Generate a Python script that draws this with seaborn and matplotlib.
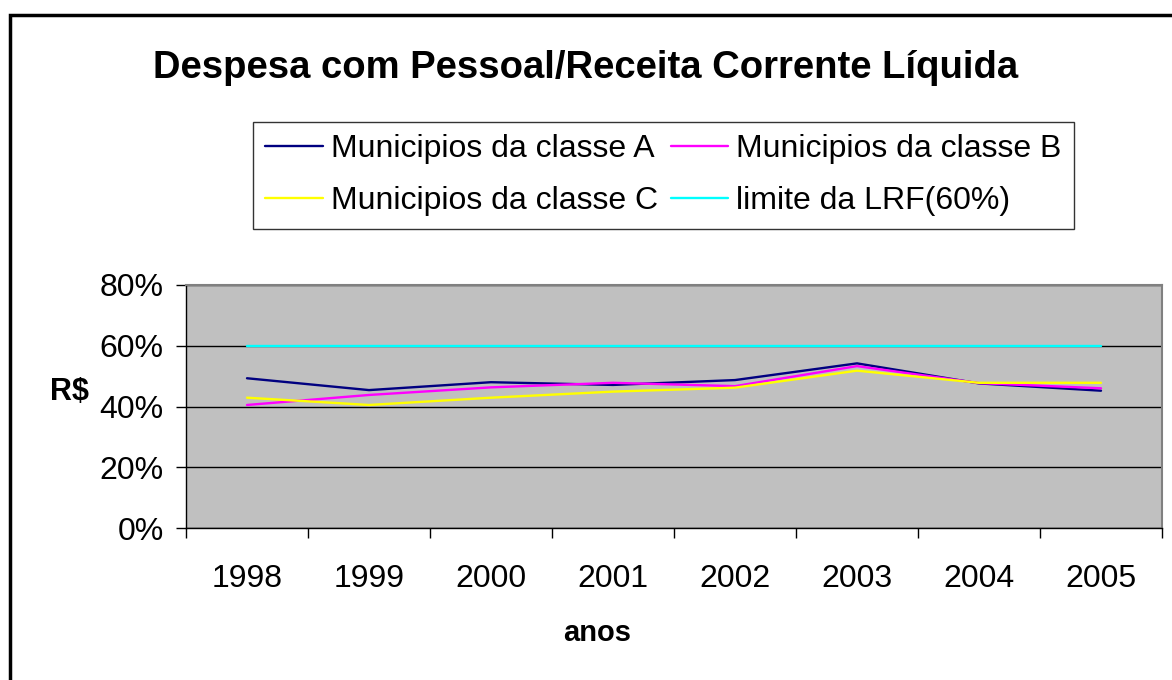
import pandas as pd
import matplotlib.pyplot as plt
import seaborn as sns
from matplotlib.patches import Rectangle
from matplotlib.ticker import PercentFormatter, FixedLocator

# data (percent)
anos = ["1998", "1999", "2000", "2001", "2002", "2003", "2004", "2005"]
classe_a = [49.3, 45.4, 48.0, 47.1, 48.7, 54.2, 47.6, 45.2]
classe_b = [40.5, 43.8, 46.3, 47.8, 46.7, 53.3, 47.7, 46.0]
classe_c = [42.9, 40.5, 42.9, 44.9, 46.2, 51.8, 47.8, 47.8]
limite = [60, 60, 60, 60, 60, 60, 60, 60]

series_names = [
    "Municipios da classe A",
    "Municipios da classe B",
    "Municipios da classe C",
    "limite da LRF(60%)",
]
cores = ["#000080", "#FF00FF", "#FFFF00", "#00FFFF"]

df = pd.DataFrame({
    "ano": anos * 4,
    "valor": classe_a + classe_b + classe_c + limite,
    "serie": [s for s in series_names for _ in anos],
})

sns.set_style("white")
plt.rcParams["font.family"] = ["Liberation Sans", "DejaVu Sans"]
plt.rcParams["text.color"] = "black"
plt.rcParams["axes.labelcolor"] = "black"
plt.rcParams["xtick.color"] = "black"
plt.rcParams["ytick.color"] = "black"

fig = plt.figure(figsize=(11.72, 6.8), dpi=100)
ax = fig.add_axes([186 / 1172, 1 - 528 / 680, 976 / 1172, 243 / 680])
ax.set_facecolor("#C0C0C0")

sns.lineplot(data=df, x="ano", y="valor", hue="serie", hue_order=series_names,
             palette=dict(zip(series_names, cores)), linewidth=1.7,
             ax=ax, legend=False, zorder=3)

ax.set_xlim(-0.5, 7.5)
ax.set_ylim(0, 80)
ax.set_yticks([0, 20, 40, 60, 80])
ax.yaxis.set_major_formatter(PercentFormatter(decimals=0))
ax.yaxis.grid(True, color="black", linewidth=1)
ax.set_axisbelow(True)

# category labels at centers, tick marks between categories
ax.set_xticks(range(len(anos)))
ax.set_xticklabels(anos)
ax.xaxis.set_minor_locator(FixedLocator([i - 0.5 for i in range(len(anos) + 1)]))
ax.tick_params(axis="x", which="major", length=0, pad=26, labelsize=23)
ax.tick_params(axis="x", which="minor", length=7, width=1, color="black", direction="out")
ax.tick_params(axis="y", length=7, width=1, color="black", direction="out", pad=9, labelsize=23)
ax.tick_params(bottom=True, left=True, which="both")

for s in ["left", "bottom"]:
    ax.spines[s].set_color("black")
    ax.spines[s].set_linewidth(1)
for s in ["top", "right"]:
    ax.spines[s].set_color("#808080")
    ax.spines[s].set_linewidth(1.5)

ax.set_ylabel("R$", rotation=0, fontsize=22, fontweight="bold")
ax.yaxis.set_label_coords(-0.119, 0.56)
ax.yaxis.label.set_va("center")
ax.set_xlabel("anos", fontsize=21, fontweight="bold")
ax.xaxis.set_label_coords(0.421, -0.432)
ax.xaxis.label.set_va("center")

fig.text(0.5, 1 - 68 / 680, "Despesa com Pessoal/Receita Corrente Líquida",
         ha="center", va="center", fontsize=27.5, fontweight="bold")

# legend: row 1 A, B ; row 2 C, limite
handles = [plt.Line2D([], [], color=c, linewidth=1.7) for c in cores]
order = [0, 2, 1, 3]
leg = fig.legend([handles[i] for i in order], [series_names[i] for i in order],
                 ncol=2, loc="upper left", bbox_to_anchor=(253 / 1172, 1 - 122 / 680),
                 frameon=True, fancybox=False, edgecolor="black", fontsize=23,
                 handlelength=1.8, handletextpad=0.25, columnspacing=0.4,
                 labelspacing=0.7, borderpad=0.38, borderaxespad=0)
leg.get_frame().set_linewidth(1)

# outer chart border
fig.patches.append(Rectangle((10 / 1172, -0.1), 1.2, 1.1 - 15 / 680,
                             transform=fig.transFigure, fill=False,
                             edgecolor="black", linewidth=2.5))

fig.savefig("out.png", dpi=100, facecolor="white")
